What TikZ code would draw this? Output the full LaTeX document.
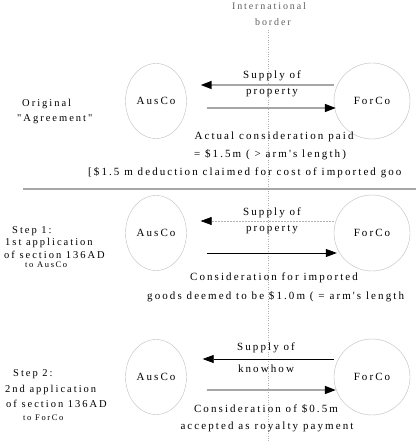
\documentclass[tikz,border=0pt]{standalone}
\usepackage{fontspec}
\setmainfont{Liberation Serif}
\newfontfamily\spaced{Liberation Serif}[LetterSpace=19]
\usetikzlibrary{arrows.meta,shapes.geometric}

\begin{document}
\begin{tikzpicture}[x=1pt,y=-1pt,
        co/.style={draw=gray!50, inner sep=0pt, font=\spaced\fontsize{11}{12}\selectfont},
        ausco/.style={co, ellipse, minimum width=61pt, minimum height=75pt},
        forco/.style={co, circle, minimum size=76pt},
        lbl/.style={inner sep=0pt, anchor=base, font=\spaced\fontsize{11}{12}\selectfont},
        side/.style={inner sep=0pt, anchor=base west, font=\spaced\fontsize{10.5}{12}\selectfont},
        small/.style={inner sep=0pt, anchor=base west, font=\spaced\fontsize{8.5}{10}\selectfont},
        tip/.style={-{Triangle[length=11pt,width=8pt,black]}},
        shaded/.style={tip, draw=gray!70, line width=1.5pt},
        plain/.style={tip, draw=black, line width=0.8pt},
        faint/.style={tip, draw=gray!60, line width=0.5pt, dash pattern=on 1.5pt off 1.5pt}]
        \useasboundingbox (0,0) rectangle (416,443);
        \fill[white] (0,0) rectangle (416,443);

        % the border
        \draw[gray!60, dotted] (268,30) -- (268,443);
        \node[lbl, text=gray!75!black, font=\spaced\fontsize{10}{12}\selectfont] at (269,9.5) {International};
        \node[lbl, text=gray!75!black, font=\spaced\fontsize{10}{12}\selectfont] at (273,26) {border};

        \foreach \r/\y in {1/101,2/233,3/377}
        {
            \node[ausco] (a\r) at (156,\y) {AusCo};
            \node[forco] (f\r) at (372,\y) {ForCo};
        }

        % original agreement
        \draw[shaded] ([yshift=16pt]f1.west) -- ([yshift=16pt,xshift=14pt]a1.east);
        \draw[shaded] ([yshift=-7pt,xshift=20pt]a1.east) -- ([yshift=-7pt,xshift=2pt]f1.west);
        \node[lbl] at (272,79) {Supply of};
        \node[lbl] at (272,95) {property};
        \node[lbl] at (274,140) {Actual consideration paid};
        \node[lbl] at (270,158) {= \$1.5m ( > arm's length)};
        \node[lbl, anchor=base west] at (88,176) {[\$1.5 m deduction claimed for cost of imported goo};
        \node[side] at (22,107) {Original};
        \node[side] at (17,122) {"Agreement"};

        \draw[gray!70, line width=1.6pt] (23,189) -- (416,189);

        % step 1
        \draw[faint] ([yshift=12pt]f2.west) -- ([yshift=12pt,xshift=14pt]a2.east);
        \draw[plain] ([yshift=-20pt,xshift=20pt]a2.east) -- ([yshift=-20pt,xshift=3pt]f2.west);
        \node[lbl] at (272,215) {Supply of};
        \node[lbl] at (272,231) {property};
        \node[lbl] at (274,280) {Consideration for imported};
        \node[lbl, anchor=base west] at (147,299) {goods deemed to be \$1.0m ( = arm's length};
        \node[side] at (12,233) {Step 1:};
        \node[side] at (5,245) {1st application};
        \node[side] at (4,258) {of section 136AD};
        \node[small] at (25,267) {to AusCo};

        % step 2
        \draw[plain] ([yshift=18pt]f3.west) -- ([yshift=18pt,xshift=16pt]a3.east);
        \draw[shaded] ([yshift=-13pt,xshift=20pt]a3.east) -- ([yshift=-13pt,xshift=2pt]f3.west);
        \node[lbl] at (266,350) {Supply of};
        \node[lbl] at (266,372) {knowhow};
        \node[lbl] at (266,412) {Consideration of \$0.5m};
        \node[lbl] at (267,429) {accepted as royalty payment};
        \node[side] at (13,376) {Step 2:};
        \node[side] at (5,392) {2nd application};
        \node[side] at (6,407) {of section 136AD};
        \node[small] at (23,420) {to ForCo};
\end{tikzpicture}
\end{document}
